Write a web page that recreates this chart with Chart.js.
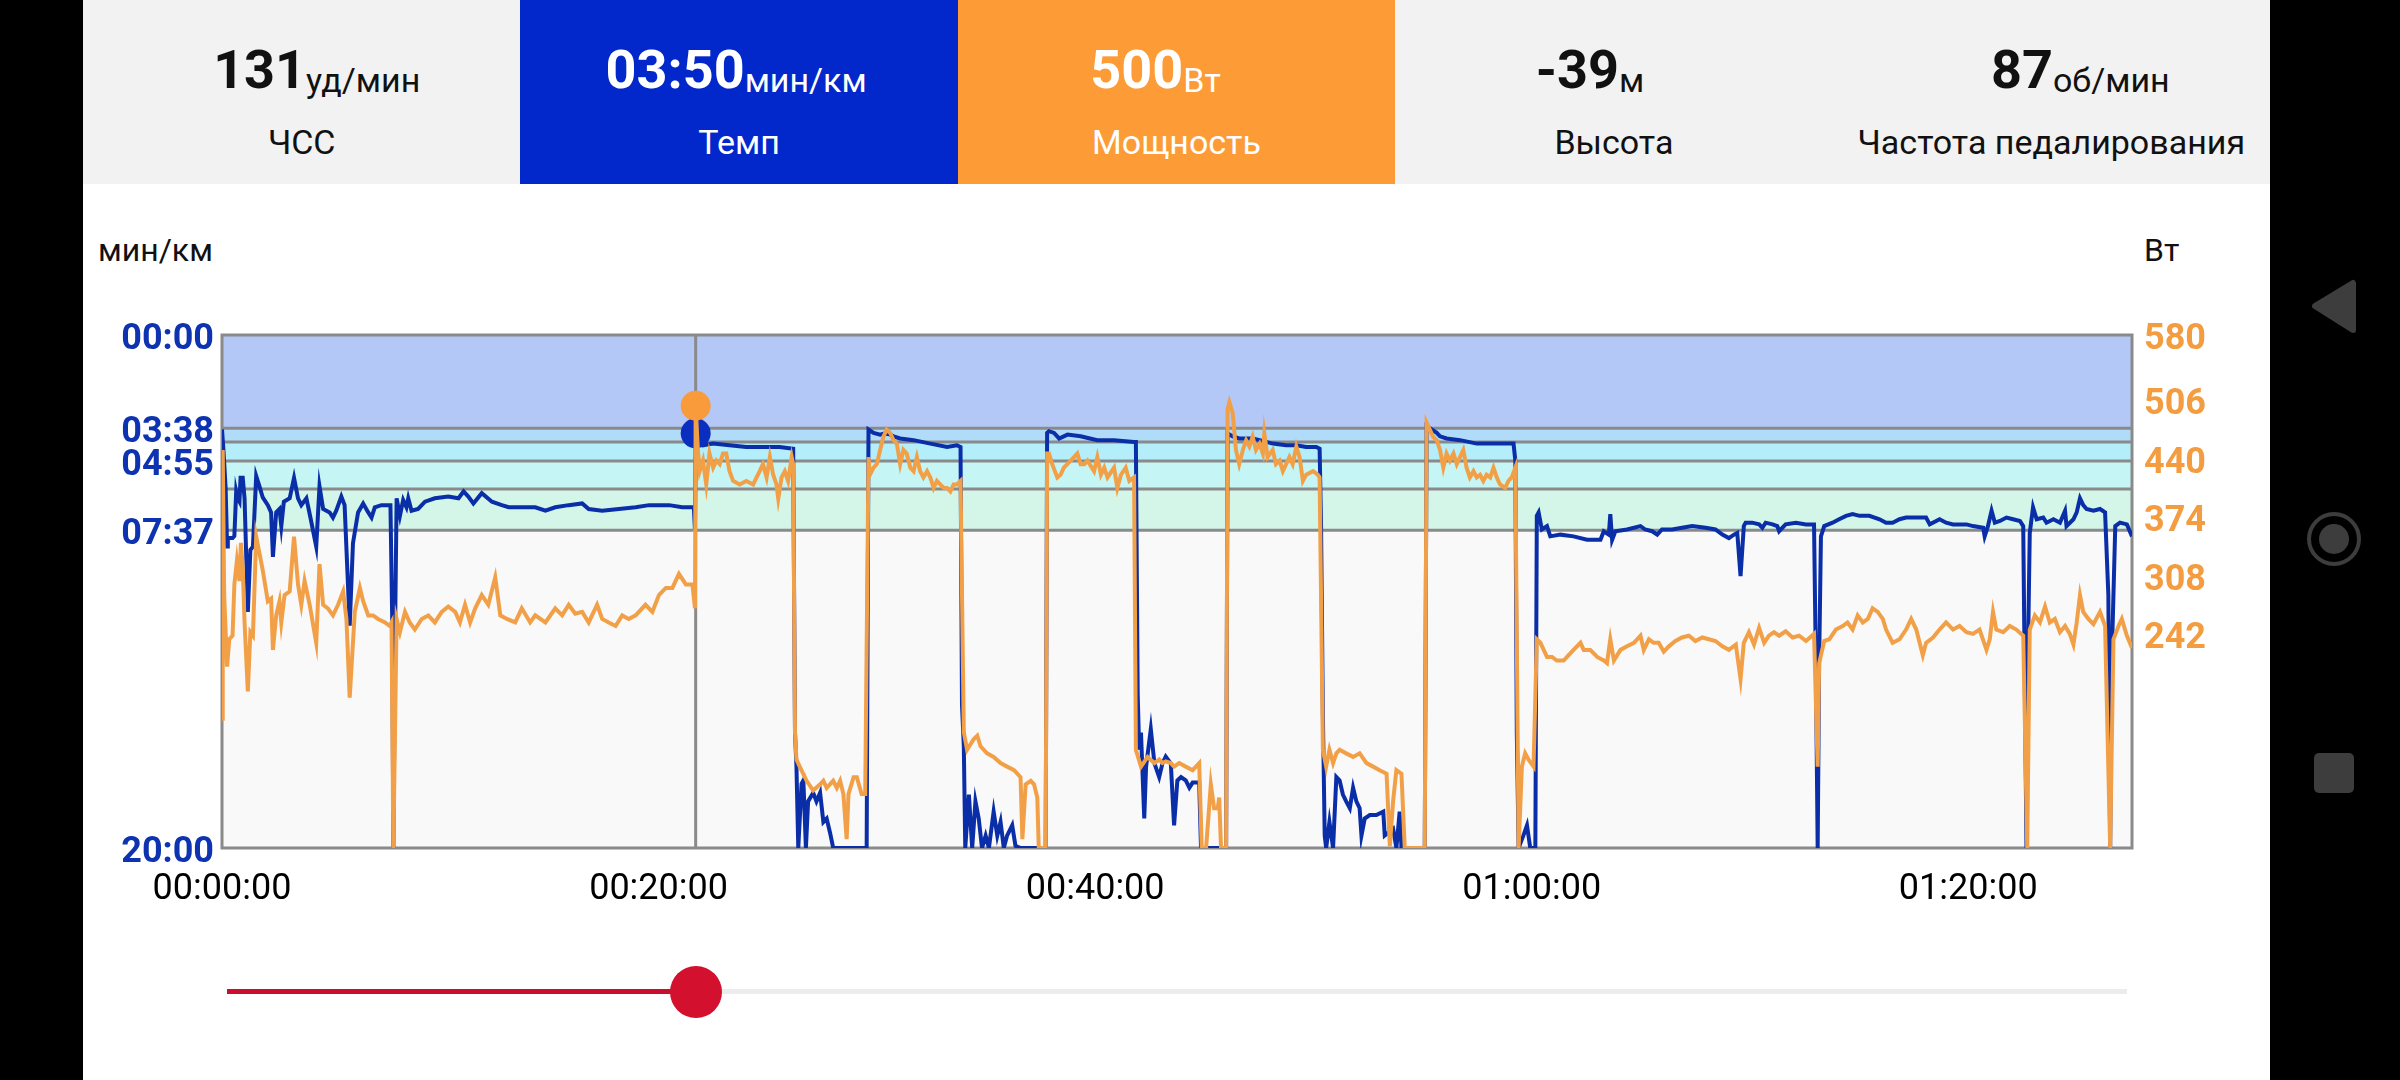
<!DOCTYPE html>
<html>
<head>
<meta charset="utf-8">
<script src="https://cdn.jsdelivr.net/npm/chart.js@4.4.1/dist/chart.umd.min.js"></script>
<style>
  html, body { margin: 0; padding: 0; background: #000; width: 2400px; height: 1080px; overflow: hidden; font-family: Roboto, "Noto Sans", sans-serif; }
  #screen { position: absolute; left: 83px; top: 0; width: 2187px; height: 1080px; background: #fff; }
  #header { position: absolute; left: 0; top: 0; width: 2187px; height: 184px; display: flex; }
  .cell { flex: 1; background: #f2f2f2; color: #111; text-align: center; position: relative; }
  .cell.pace { background: #0228cc; color: #fff; }
  .cell.power { background: #fd9b37; color: #fff; }
  .val { position: absolute; left: 0; right: 0; top: 38px; font-size: 54px; font-weight: 700; line-height: 64px; white-space: nowrap; }
  .val span { font-size: 34px; font-weight: 400; vertical-align: -4px; }
  .lbl { position: absolute; left: 0; right: 0; top: 120px; font-size: 34px; line-height: 44px; white-space: nowrap; }
  .axis-title { position: absolute; top: 230px; font-size: 32px; line-height: 40px; color: #111; }
  #chartBox { position: absolute; left: 0; top: 184px; width: 2187px; height: 896px; }
  .track { position: absolute; height: 5px; top: 989px; }
  #thumb { position: absolute; width: 52px; height: 52px; border-radius: 50%; background: #d3102e; top: 966px; }
  #nav { position: absolute; left: 2270px; top: 0; width: 130px; height: 1080px; }
</style>
</head>
<body>
<div id="screen">
  <div id="header">
    <div class="cell"><div class="val" style="margin-left:30px">131<span>уд/мин</span></div><div class="lbl">ЧСС</div></div>
    <div class="cell pace"><div class="val" style="margin-left:-6px">03:50<span>мин/км</span></div><div class="lbl">Темп</div></div>
    <div class="cell power"><div class="val" style="margin-left:-42px">500<span>Вт</span></div><div class="lbl">Мощность</div></div>
    <div class="cell"><div class="val" style="margin-left:-48px">-39<span>м</span></div><div class="lbl">Высота</div></div>
    <div class="cell"><div class="val" style="margin-left:58px">87<span>об/мин</span></div><div class="lbl">Частота педалирования</div></div>
  </div>
  <div class="axis-title" style="left:15px">мин/км</div>
  <div class="axis-title" style="left:2061px">Вт</div>
  <div id="chartBox"><canvas id="chart" width="2187" height="896"></canvas></div>
  <div class="track" id="trackRest" style="background:#ececec"></div>
  <div class="track" id="trackDone" style="background:#c8102e"></div>
  <div id="thumb"></div>
</div>
<svg id="nav" viewBox="0 0 130 1080">
  <polygon points="45,306 83,283 83,330" fill="#3d3d3d" stroke="#3d3d3d" stroke-width="6" stroke-linejoin="round"/>
  <circle cx="64" cy="539" r="25" fill="none" stroke="#3d3d3d" stroke-width="4"/>
  <circle cx="64" cy="539" r="15" fill="#3d3d3d"/>
  <rect x="44" y="753" width="40" height="40" rx="5" fill="#3d3d3d"/>
</svg>
<script>
// Session data: time in seconds, pace in seconds per km, power in watts
const sessionLength = 5250;
const timeTicks = [0, 1200, 2400, 3600, 4800];
const paceTicks = [0, 218, 295, 457, 1200];
const powerTicks = [242, 308, 374, 440, 506, 580];
const paceZones = [218, 250, 295, 360, 457];
const zoneColors = ['#b3c8f7', '#b0dcf9', '#b4eefa', '#c5f5f5', '#d3f6e8', '#f9f9f9'];

const cursorTime = 1302;
const cursorPace = 230;
const cursorPower = 500;

const paceTime = [
  0, 4, 10, 14, 16, 29, 34, 39, 43, 48, 51, 57, 62, 71, 78, 85, 94, 103, 112, 126, 135, 140, 149, 158, 163, 170, 186, 198, 209, 218,
  232, 244, 259, 268, 278, 296, 305, 314, 328, 337, 351, 360, 374, 388, 402, 411, 420, 438, 463, 468, 471, 476, 480, 489, 498, 507, 512, 521, 539, 558,
  585, 622, 650, 664, 677, 691, 714, 742, 769, 788, 815, 861, 889, 916, 953, 990, 1008, 1045, 1091, 1137, 1174, 1229, 1265, 1297, 1300, 1302,
  1308, 1322, 1350, 1395, 1441, 1487, 1533, 1570, 1575, 1579, 1584, 1593, 1598, 1605, 1611, 1625, 1634, 1644, 1653, 1662, 1671, 1680, 1772, 1777,
  1791, 1809, 1827, 1846, 1864, 1901, 1947, 1993, 2020, 2030, 2034, 2039, 2043, 2053, 2062, 2071, 2080, 2089, 2099, 2108, 2121, 2131, 2140, 2149,
  2158, 2172, 2181, 2195, 2264, 2268, 2273, 2287, 2301, 2324, 2360, 2406, 2452, 2507, 2512, 2517, 2521, 2526, 2535, 2540, 2553, 2563, 2576,
  2585, 2594, 2608, 2617, 2626, 2636, 2649, 2659, 2668, 2686, 2691, 2760, 2764, 2769, 2778, 2796, 2833, 2852, 2888, 2925, 2953, 2980, 3008, 3017,
  3021, 3026, 3031, 3035, 3044, 3054, 3063, 3072, 3081, 3090, 3100, 3109, 3118, 3127, 3132, 3141, 3155, 3173, 3192, 3196, 3219, 3228, 3237, 3242,
  3306, 3311, 3325, 3339, 3348, 3366, 3403, 3449, 3495, 3550, 3555, 3559, 3564, 3577, 3587, 3596, 3610, 3614, 3619, 3628, 3642, 3651, 3679, 3715,
  3752, 3789, 3798, 3812, 3816, 3821, 3830, 3862, 3899,
  3912, 3931, 3945, 3958, 3986, 4013, 4041, 4078, 4105, 4124, 4142, 4156, 4165, 4174, 4183, 4188, 4206, 4225, 4234, 4243, 4262, 4275, 4280, 4298,
  4326, 4354, 4376, 4381, 4386, 4390, 4395, 4404, 4427, 4445, 4464, 4482, 4501, 4528, 4556, 4574, 4592, 4611, 4629, 4666, 4684, 4694, 4712, 4721,
  4739, 4758, 4795, 4813, 4841, 4845, 4854, 4864, 4873, 4887, 4905, 4923, 4942, 4951, 4960, 4965, 4969, 4978, 4988, 5006, 5015, 5034, 5052, 5066,
  5070, 5089, 5098, 5107, 5116, 5125, 5144, 5162, 5176, 5185, 5190, 5194, 5204, 5217, 5236, 5250
];
const paceValue = [
  221, 270, 358, 495, 475, 475, 470, 366, 382, 390, 334, 334, 382, 648, 503, 495, 330, 354, 380, 398, 415, 519, 415, 407, 447, 390, 382, 334, 382, 398,
  382, 431, 495, 354, 407, 415, 427, 411, 378, 398, 680, 487, 415, 394, 415, 427, 403, 398, 398, 672, 1200, 672, 382, 423, 386, 403, 382, 411, 407, 390,
  382, 378, 382, 366, 378, 394, 370, 390, 398, 403, 403, 403, 411, 403, 398, 394, 407, 411, 407, 403, 398, 398, 403, 403, 455, 230,
  246, 258, 254, 258, 262, 262, 262, 266, 930, 1010, 1200, 1050, 1042, 1200, 1091, 1071, 1091, 1071, 1139, 1131, 1163, 1200, 1200, 221,
  229, 233, 229, 237, 242, 246, 254, 262, 258, 262, 865, 962, 1200, 1075, 1200, 1091, 1131, 1200, 1171, 1200, 1115, 1171, 1139, 1200,
  1171, 1147, 1195, 1200, 1200, 229, 225, 229, 242, 233, 237, 246, 246, 250, 250, 841, 970, 930, 1131, 1010, 922, 1002, 1034,
  1002, 986, 1002, 1147, 1042, 1034, 1042, 1059, 1047, 1047, 1200, 1200, 229, 233, 237, 242, 242, 246, 254, 258, 258, 262, 262, 266,
  447, 890, 1171, 1200, 1139, 1200, 1034, 1042, 1075, 1091, 1107, 1059, 1091, 1107, 1171, 1131, 1123, 1123, 1115, 1171, 1155, 1200, 1115, 1200,
  1200, 213, 221, 229, 237, 242, 246, 254, 254, 254, 294, 930, 1200, 1171, 1147, 1200, 1200, 423, 415, 455, 447, 471, 467, 471,
  479, 479, 459, 467, 419, 479, 459, 455, 447,
  455, 459, 467, 455, 455, 451, 447, 451, 455, 467, 475, 467, 463, 564, 447, 439, 439, 443, 451, 439, 443, 447, 459, 443,
  439, 443, 443, 769, 1200, 769, 471, 447, 439, 431, 423, 419, 423, 423, 431, 439, 439, 431, 427, 427, 427, 443, 435, 431,
  439, 443, 443, 447, 451, 471, 447, 411, 439, 435, 427, 431, 435, 447, 1200, 688, 463, 403, 431, 427, 439, 431, 439, 411,
  447, 431, 415, 382, 398, 407, 411, 407, 415, 608, 1200, 769, 447, 439, 443, 471
];

const powerTime = [
  0, 2, 6, 14, 20, 29, 34, 41, 48, 52, 57, 62, 71, 78, 85, 94, 103, 112, 126, 135, 140, 149, 158, 163, 172, 186, 198, 209, 218, 227,
  241, 259, 268, 278, 291, 305, 319, 333, 342, 351, 365, 379, 388, 402, 415, 429, 448, 461, 466, 471, 480, 489, 503, 516, 530, 549, 567, 585, 604, 622,
  641, 654, 668, 682, 696, 714, 732, 751, 765, 783, 806, 824, 847, 861, 889, 916, 935, 953, 971, 990, 1008, 1031, 1045, 1063, 1082, 1100, 1118, 1137,
  1164, 1183, 1201, 1220, 1238, 1256, 1275, 1293, 1300, 1302,
  1308, 1313, 1322, 1331, 1340, 1350, 1359, 1368, 1377, 1386, 1395, 1405, 1423, 1441, 1460, 1478, 1487, 1497, 1506, 1515, 1524, 1529, 1538, 1547,
  1556, 1566, 1570, 1575, 1579, 1588, 1607, 1625, 1644, 1653, 1662, 1680, 1690, 1699, 1708, 1717, 1722, 1736, 1745, 1758, 1768, 1777, 1781, 1791,
  1800, 1809, 1818, 1827, 1837, 1846, 1855, 1864, 1873, 1882, 1892, 1901, 1910, 1919, 1928, 1938, 1947, 1956, 1965, 1974, 1984, 1993, 2002, 2011,
  2020, 2030, 2039, 2048, 2066, 2076, 2085, 2103, 2121, 2140, 2158, 2177, 2195, 2200, 2209, 2223, 2232, 2241, 2245, 2264, 2268, 2273, 2282, 2296,
  2305, 2314, 2333, 2351, 2360, 2370, 2379, 2397, 2406, 2416, 2425, 2434, 2452, 2461, 2471, 2484, 2494, 2507, 2512, 2526, 2544, 2563, 2576,
  2585, 2594, 2608, 2617, 2631, 2649, 2668, 2686, 2693, 2705, 2718, 2727, 2737, 2741, 2746, 2760, 2764, 2769, 2778, 2787, 2796, 2806, 2815, 2824,
  2833, 2842, 2852, 2861, 2865, 2874, 2888, 2897, 2907, 2916, 2925, 2934, 2943, 2953, 2962, 2971, 2980, 2999, 3012, 3017, 3026, 3035, 3044, 3054,
  3063, 3072, 3090, 3109, 3127, 3146, 3164, 3182, 3201, 3210, 3219, 3228, 3242, 3251, 3306, 3311, 3320, 3329, 3339, 3348, 3357, 3366, 3375, 3385,
  3394, 3403, 3412, 3421, 3430, 3440, 3449, 3458, 3467, 3476, 3486, 3495, 3504, 3513, 3527, 3536, 3545, 3555, 3564, 3573, 3582, 3591, 3605, 3614,
  3624, 3633, 3642, 3656, 3669, 3688, 3697, 3715, 3734, 3743, 3761, 3780, 3798, 3807, 3816, 3826, 3844, 3862, 3881, 3899,
  3908, 3922, 3935, 3949, 3963, 3977, 3995, 4013, 4032, 4050, 4069, 4087, 4105, 4124, 4142, 4161, 4174, 4183, 4197, 4211, 4225, 4239, 4252, 4266,
  4280, 4298, 4317, 4335, 4354, 4376, 4386, 4390, 4404, 4418, 4436, 4455, 4468, 4482, 4496, 4510, 4524, 4537, 4551, 4565, 4574, 4592, 4611, 4629,
  4643, 4657, 4675, 4684, 4703, 4721, 4739, 4758, 4776, 4795, 4813, 4831, 4850, 4859, 4868, 4877, 4896, 4914, 4932, 4951, 4962, 4969, 4983, 4997,
  5011, 5024, 5038, 5052, 5066, 5079, 5089, 5098, 5107, 5116, 5130, 5144, 5162, 5176, 5190, 5199, 5213, 5222, 5236, 5250
];
const powerValue = [
  146, 450, 286, 205, 236, 240, 298, 325, 302, 345, 317, 255, 177, 244, 240, 352, 333, 314, 279, 282, 224, 263, 279, 255, 286, 290, 352, 298, 275, 302,
  275, 232, 321, 275, 271, 263, 275, 290, 259, 170, 267, 294, 279, 263, 263, 259, 255, 251, 255, 0, 259, 244, 267, 255, 247, 259, 263, 255, 267, 273,
  267, 255, 275, 255, 271, 286, 275, 306, 263, 259, 255, 271, 255, 263, 255, 271, 263, 275, 265, 267, 255, 275, 259, 255, 251, 263, 259, 263,
  275, 267, 286, 294, 294, 310, 298, 298, 271, 500,
  450, 426, 438, 411, 446, 430, 438, 434, 446, 446, 426, 415, 411, 415, 411, 426, 434, 419, 442, 422, 411, 395, 419, 426,
  415, 442, 434, 131, 100, 92, 76, 65, 72, 76, 68, 76, 68, 76, 61, 10, 61, 80, 80, 61, 61, 442, 422, 430,
  434, 450, 465, 473, 469, 461, 457, 434, 450, 446, 430, 426, 442, 426, 419, 426, 419, 407, 415, 411, 407, 407, 403, 411,
  411, 415, 131, 111, 123, 127, 115, 107, 103, 96, 92, 88, 80, 10, 72, 76, 72, 57, 0, 0, 446, 446, 434, 419,
  422, 430, 438, 446, 434, 434, 438, 426, 442, 422, 430, 419, 430, 407, 422, 430, 415, 419, 111, 92, 103, 96, 100,
  96, 98, 96, 92, 96, 92, 88, 96, 0, 0, 72, 45, 45, 57, 0, 0, 496, 504, 492, 450, 434, 450, 461, 454,
  465, 450, 457, 446, 469, 442, 450, 434, 438, 426, 434, 442, 434, 454, 442, 415, 422, 426, 422, 419, 111, 92, 111, 96,
  107, 111, 107, 103, 107, 96, 92, 88, 84, 2, 53, 88, 84, 0, 0, 481, 473, 465, 461, 450, 430, 446, 438, 446,
  434, 442, 450, 430, 419, 426, 419, 422, 415, 422, 419, 430, 419, 411, 407, 415, 419, 430, 0, 92, 107, 100, 92, 236,
  232, 224, 216, 216, 212, 212, 216, 224, 232, 224, 224, 216, 212, 209, 236, 212, 224, 228, 232, 240,
  224, 236, 232, 232, 222, 228, 234, 238, 240, 234, 238, 236, 234, 228, 224, 230, 191, 232, 244, 230, 249, 232, 240, 244,
  240, 245, 238, 240, 234, 242, 92, 209, 234, 236, 247, 251, 255, 247, 263, 255, 259, 271, 267, 259, 247, 232, 236, 247,
  259, 247, 218, 232, 238, 247, 255, 247, 251, 244, 242, 247, 224, 236, 267, 247, 244, 251, 247, 240, 0, 247, 263, 255,
  273, 255, 259, 244, 251, 242, 230, 255, 286, 267, 259, 253, 267, 251, 0, 236, 251, 259, 240, 226
];

const pad2 = n => String(n).padStart(2, '0');
const fmtPace = v => pad2(Math.floor(v / 60)) + ':' + pad2(v % 60);
const fmtTime = v => pad2(Math.floor(v / 3600)) + ':' + pad2(Math.floor(v / 60) % 60) + ':' + pad2(v % 60);
// empty first line nudges the single visible label a few px lower, like the app does
const nudge = s => ['', s];

const toPoints = (xs, ys) => xs.map((x, i) => ({ x: x, y: ys[i] }));

// Pace zone bands and plot frame, drawn under the lines
const zonePlugin = {
  id: 'paceZones',
  beforeDatasetsDraw(chart) {
    const ctx = chart.ctx;
    const area = chart.chartArea;
    const pace = chart.scales.pace;
    const edges = [pace.min].concat(paceZones, [pace.max]);
    ctx.save();
    for (let i = 0; i < edges.length - 1; i++) {
      const y1 = pace.getPixelForValue(edges[i]);
      const y2 = pace.getPixelForValue(edges[i + 1]);
      ctx.fillStyle = zoneColors[i];
      ctx.fillRect(area.left, y1, area.width, y2 - y1);
    }
    ctx.strokeStyle = '#8a8a8a';
    ctx.lineWidth = 3;
    paceZones.forEach(v => {
      const y = pace.getPixelForValue(v);
      ctx.beginPath();
      ctx.moveTo(area.left, y);
      ctx.lineTo(area.right, y);
      ctx.stroke();
    });
    ctx.strokeRect(area.left, area.top, area.width, area.height);
    ctx.restore();
  }
};

const chart = new Chart(document.getElementById('chart'), {
  type: 'line',
  data: {
    datasets: [
      {
        label: 'cursor',
        data: [{ x: cursorTime, y: 0 }, { x: cursorTime, y: 1200 }],
        yAxisID: 'pace',
        borderColor: '#8a8a8a',
        borderWidth: 3,
        pointRadius: 0,
        order: 10
      },
      {
        label: 'Темп',
        data: toPoints(paceTime, paceValue),
        yAxisID: 'pace',
        borderColor: '#0a2ea8',
        borderWidth: 4,
        pointRadius: 0,
        tension: 0,
        order: 8
      },
      {
        label: 'pace marker',
        data: [{ x: cursorTime, y: cursorPace }],
        yAxisID: 'pace',
        showLine: false,
        pointRadius: 15,
        pointBackgroundColor: '#0a2fc0',
        pointBorderWidth: 0,
        order: 6
      },
      {
        label: 'Мощность',
        data: toPoints(powerTime, powerValue),
        yAxisID: 'power',
        borderColor: '#f2a048',
        borderWidth: 4,
        pointRadius: 0,
        tension: 0,
        order: 4
      },
      {
        label: 'power marker',
        data: [{ x: cursorTime, y: cursorPower }],
        yAxisID: 'power',
        showLine: false,
        pointRadius: 15,
        pointBackgroundColor: '#f99b3a',
        pointBorderWidth: 0,
        order: 2
      }
    ]
  },
  options: {
    responsive: false,
    animation: false,
    devicePixelRatio: 1,
    events: [],
    parsing: false,
    layout: { padding: { left: 0, right: 0, top: 151, bottom: 142 } },
    plugins: { legend: { display: false }, tooltip: { enabled: false } },
    scales: {
      x: {
        type: 'linear',
        min: 0,
        max: sessionLength,
        grid: { display: false, drawTicks: false },
        border: { display: false },
        afterFit: s => { s.height = 90; },
        afterBuildTicks: s => { s.ticks = timeTicks.map(v => ({ value: v })); },
        ticks: {
          autoSkip: false,
          maxRotation: 0,
          padding: 20,
          color: '#000',
          font: { family: 'Roboto', size: 36 },
          callback: v => fmtTime(v)
        }
      },
      pace: {
        type: 'linear',
        position: 'left',
        reverse: true,
        min: 0,
        max: 1200,
        grid: { display: false, drawTicks: false },
        border: { display: false },
        afterFit: s => { s.width = 139; },
        afterBuildTicks: s => { s.ticks = paceTicks.map(v => ({ value: v })); },
        ticks: {
          autoSkip: false,
          padding: 8,
          color: '#0d33b0',
          font: { family: 'Roboto', size: 36, weight: 'bold', lineHeight: '10px' },
          callback: v => nudge(fmtPace(v))
        }
      },
      power: {
        type: 'linear',
        position: 'right',
        min: 0,
        max: 580,
        grid: { display: false, drawTicks: false },
        border: { display: false },
        afterFit: s => { s.width = 138; },
        afterBuildTicks: s => { s.ticks = powerTicks.map(v => ({ value: v })); },
        ticks: {
          autoSkip: false,
          padding: 12,
          color: '#f39c40',
          font: { family: 'Roboto', size: 36, weight: 'bold', lineHeight: '10px' },
          callback: v => nudge(String(v))
        }
      }
    }
  },
  plugins: [zonePlugin]
});

// Playback slider under the chart follows the cursor time
const area = chart.chartArea;
const cursorX = chart.scales.x.getPixelForValue(cursorTime);
const rest = document.getElementById('trackRest');
const done = document.getElementById('trackDone');
const thumb = document.getElementById('thumb');
done.style.left = (area.left + 5) + 'px';
done.style.width = (cursorX - area.left - 5) + 'px';
rest.style.left = cursorX + 'px';
rest.style.width = (area.right - 5 - cursorX) + 'px';
thumb.style.left = (cursorX - 26) + 'px';
</script>
</body>
</html>
